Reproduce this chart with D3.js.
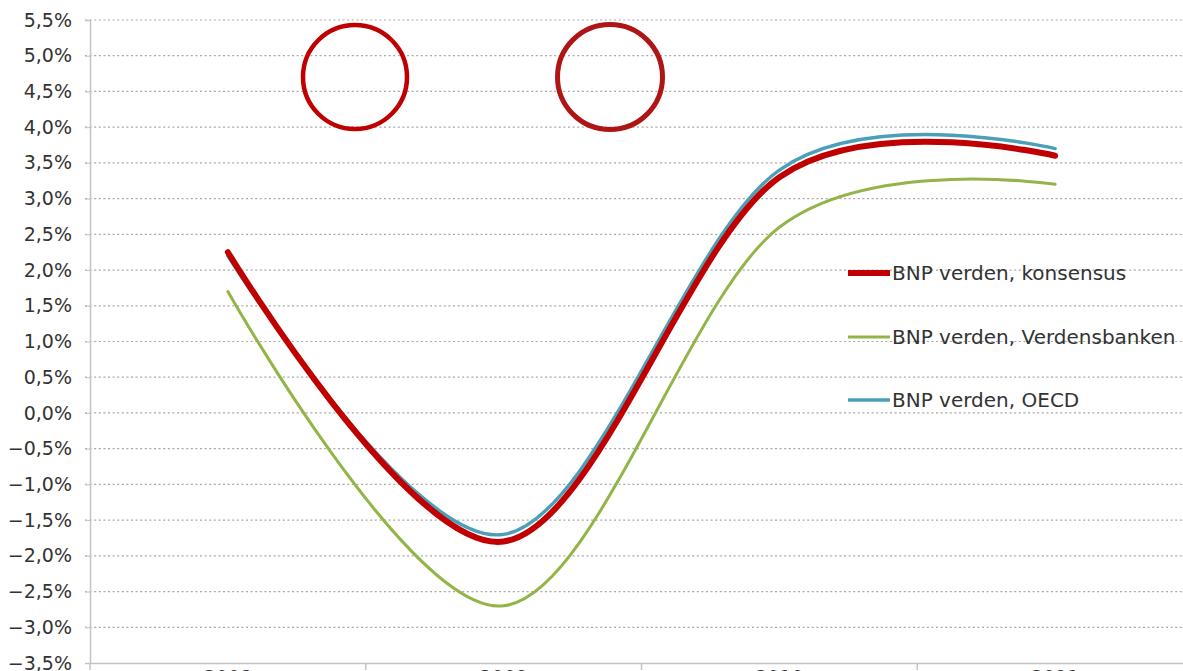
<!DOCTYPE html>
<html>
<head>
<meta charset="utf-8">
<script src="https://cdn.jsdelivr.net/npm/d3@7"></script>
<style>
  html, body { margin: 0; padding: 0; background: #fff; overflow: hidden; }
  svg { display: block; }
</style>
</head>
<body>
<svg id="chart" width="1183" height="671"></svg>
<script>
// ---- data ----
const years = ["2008", "2009", "2010", "2011"];
const konsensus = [2.25, -1.8, 3.3, 3.6];
const verdensbanken = [1.7, -2.7, 2.6, 3.2];
const oecd = [2.2, -1.7, 3.4, 3.7];
const yTicks = [-3.5, -3.0, -2.5, -2.0, -1.5, -1.0, -0.5, 0, 0.5, 1.0, 1.5, 2.0, 2.5, 3.0, 3.5, 4.0, 4.5, 5.0, 5.5];
const seriesNames = ["BNP verden, konsensus", "BNP verden, Verdensbanken", "BNP verden, OECD"];

(function () {
const svg = d3.select("#chart");
const W = 1183;
const mLeft = 90, mRight = 1193, mTop = 20, mBottom = 663;

const x = d3.scaleBand().domain(years).range([mLeft, mRight]).padding(0);
const y = d3.scaleLinear().domain([-3.5, 5.5]).range([mBottom, mTop]);
const fmt = v => d3.format(".1f")(v).replace(".", ",") + "%";

// gridlines
svg.append("g")
  .selectAll("line").data(yTicks.filter(v => v > -3.5)).join("line")
  .attr("x1", mLeft - 5).attr("x2", W)
  .attr("y1", d => y(d)).attr("y2", d => y(d))
  .attr("stroke", "#a8a8a8").attr("stroke-width", 1.2)
  .attr("stroke-dasharray", "2,2.6");

// y axis
const yAxis = d3.axisLeft(y).tickValues(yTicks).tickFormat(fmt).tickSize(5).tickPadding(13);
const gy = svg.append("g").attr("transform", `translate(${mLeft},0)`).call(yAxis);
gy.select(".domain").attr("stroke", "#c4c4c4").attr("stroke-width", 1.5);
gy.selectAll(".tick line").attr("stroke", "#c4c4c4");
gy.selectAll("text").attr("fill", "#333")
  .style("font-family", "'DejaVu Sans', Verdana, sans-serif").style("font-size", "19px");

// x axis
const xAxis = d3.axisBottom(x).tickSize(0).tickPadding(8);
const gx = svg.append("g").attr("transform", `translate(0,${mBottom})`).call(xAxis);
gx.select(".domain").attr("stroke", "#c4c4c4").attr("stroke-width", 1.5);
gx.selectAll("text").attr("fill", "#333")
  .style("font-family", "'DejaVu Sans', Verdana, sans-serif").style("font-size", "19px");
gx.append("g").selectAll("line").data(years).join("line")
  .attr("x1", d => x(d)).attr("x2", d => x(d))
  .attr("y1", 0).attr("y2", 7)
  .attr("stroke", "#c4c4c4").attr("stroke-width", 1.5);

// lines
const line = d3.line()
  .x((d, i) => x(years[i]) + x.bandwidth() / 2)
  .y(d => y(d))
  .curve(d3.curveCardinal.tension(0));

const series = [
  { name: seriesNames[1], values: verdensbanken, color: "#93b548", width: 3 },
  { name: seriesNames[2], values: oecd, color: "#4c9fb8", width: 3.4 },
  { name: seriesNames[0], values: konsensus, color: "#c00000", width: 6 }
];

svg.append("g").selectAll("path").data(series).join("path")
  .attr("d", d => line(d.values))
  .attr("fill", "none")
  .attr("stroke", d => d.color)
  .attr("stroke-width", d => d.width)
  .attr("stroke-linecap", "round");

// legend
const legendItems = [
  { name: seriesNames[0], color: "#c00000", width: 6, y: 273 },
  { name: seriesNames[1], color: "#93b548", width: 3, y: 337 },
  { name: seriesNames[2], color: "#4c9fb8", width: 3.4, y: 400 }
];
const lg = svg.append("g").selectAll("g").data(legendItems).join("g")
  .attr("transform", d => `translate(0,${d.y})`);
lg.append("line").attr("x1", 848).attr("x2", 890).attr("y1", 0).attr("y2", 0)
  .attr("stroke", d => d.color).attr("stroke-width", d => d.width);
lg.append("text").attr("x", 892).attr("y", 0).attr("dy", "0.36em")
  .attr("fill", "#333")
  .style("font-family", "'DejaVu Sans', Verdana, sans-serif").style("font-size", "20px")
  .text(d => d.name);

// annotation circles
const circles = [
  { cx: 355, cy: 77, r: 52, color: "#c00000", w: 4.5 },
  { cx: 610, cy: 77, r: 52.5, color: "#b01515", w: 5 }
];
svg.append("g").selectAll("circle").data(circles).join("circle")
  .attr("cx", d => d.cx).attr("cy", d => d.cy).attr("r", d => d.r)
  .attr("fill", "none").attr("stroke", d => d.color).attr("stroke-width", d => d.w);
})();
</script>
</body>
</html>
